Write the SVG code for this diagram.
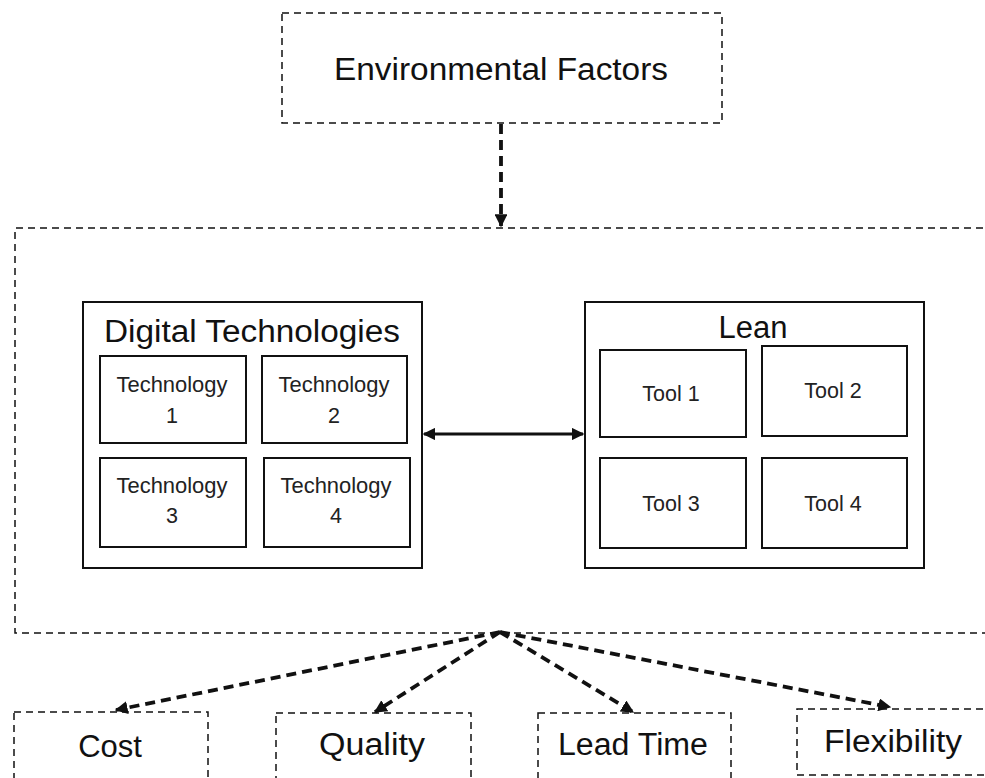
<svg xmlns="http://www.w3.org/2000/svg" width="985" height="778" viewBox="0 0 985 778">
  <style>
    .dash { fill: #fff; stroke: #111; stroke-width: 1.5; stroke-dasharray: 7 5; }
    .solid { fill: #fff; stroke: #111; stroke-width: 2; }
    .big { font-family: "Liberation Sans", Arial, sans-serif; font-size: 31px; fill: #111; text-anchor: middle; }
    .small { font-family: "Liberation Sans", Arial, sans-serif; font-size: 21.5px; fill: #222; text-anchor: middle; }
    .flow { fill: none; stroke: #111; stroke-width: 3.8; stroke-dasharray: 10 6; }
    .link { fill: none; stroke: #111; stroke-width: 2.8; }
  </style>
  <defs>
    <marker id="head" viewBox="0 0 10 10" refX="9" refY="5" markerWidth="3.4" markerHeight="3.4" orient="auto">
      <path d="M0,0 L10,5 L0,10 z" fill="#111"/>
    </marker>
    <marker id="headS" viewBox="0 0 10 10" refX="9" refY="5" markerWidth="4.5" markerHeight="4.5" orient="auto-start-reverse">
      <path d="M0,0 L10,5 L0,10 z" fill="#111"/>
    </marker>
  </defs>

  <rect width="985" height="778" fill="#fff"/>

  <!-- system boundary (open to the right) -->
  <g id="system">
    <path class="dash" d="M995,228 H15 V633 H995" fill="none"/>
  </g>

  <g id="environment">
    <rect class="dash" x="282" y="13" width="440" height="110"/>
    <text class="big" x="501" y="80" textLength="334" lengthAdjust="spacingAndGlyphs">Environmental Factors</text>
  </g>

  <g id="digital">
    <rect class="solid" x="83" y="302" width="339" height="266"/>
    <text class="big" x="252" y="342" font-size="32" textLength="296" lengthAdjust="spacingAndGlyphs">Digital Technologies</text>
  </g>
  <g id="tech1">
    <rect class="solid" x="100" y="356" width="146" height="87"/>
    <text class="small" x="172" y="392" textLength="111" lengthAdjust="spacingAndGlyphs">Technology</text>
    <text class="small" x="172" y="423">1</text>
  </g>
  <g id="tech2">
    <rect class="solid" x="262" y="356" width="145" height="87"/>
    <text class="small" x="334" y="392" textLength="111" lengthAdjust="spacingAndGlyphs">Technology</text>
    <text class="small" x="334" y="423">2</text>
  </g>
  <g id="tech3">
    <rect class="solid" x="100" y="458" width="146" height="89"/>
    <text class="small" x="172" y="493" textLength="111" lengthAdjust="spacingAndGlyphs">Technology</text>
    <text class="small" x="172" y="523">3</text>
  </g>
  <g id="tech4">
    <rect class="solid" x="264" y="458" width="146" height="89"/>
    <text class="small" x="336" y="493" textLength="111" lengthAdjust="spacingAndGlyphs">Technology</text>
    <text class="small" x="336" y="523">4</text>
  </g>

  <g id="lean">
    <rect class="solid" x="585" y="302" width="339" height="266"/>
    <text class="big" x="753" y="338" font-size="32">Lean</text>
  </g>
  <g id="tool1">
    <rect class="solid" x="600" y="350" width="146" height="87"/>
    <text class="small" x="671" y="401">Tool 1</text>
  </g>
  <g id="tool2">
    <rect class="solid" x="762" y="346" width="145" height="90"/>
    <text class="small" x="833" y="398">Tool 2</text>
  </g>
  <g id="tool3">
    <rect class="solid" x="600" y="458" width="146" height="90"/>
    <text class="small" x="671" y="511">Tool 3</text>
  </g>
  <g id="tool4">
    <rect class="solid" x="762" y="458" width="145" height="90"/>
    <text class="small" x="833" y="511">Tool 4</text>
  </g>

  <g id="cost">
    <rect class="dash" x="14" y="712" width="194" height="80"/>
    <text class="big" x="110" y="757">Cost</text>
  </g>
  <g id="quality">
    <rect class="dash" x="276" y="713" width="195" height="80"/>
    <text class="big" x="372" y="755" textLength="106" lengthAdjust="spacingAndGlyphs">Quality</text>
  </g>
  <g id="leadtime">
    <rect class="dash" x="538" y="713" width="193" height="80"/>
    <text class="big" x="633" y="755" textLength="150" lengthAdjust="spacingAndGlyphs">Lead Time</text>
  </g>
  <g id="flexibility">
    <path class="dash" d="M995,709 H797 V775 H995" fill="none"/>
    <text class="big" x="893" y="752" textLength="138" lengthAdjust="spacingAndGlyphs">Flexibility</text>
  </g>

  <g id="connectors">
    <line class="flow" x1="501" y1="124" x2="501" y2="226" marker-end="url(#head)"/>
    <line class="link" x1="424" y1="434" x2="583" y2="434" marker-start="url(#headS)" marker-end="url(#headS)"/>
    <line class="flow" x1="500" y1="632" x2="116" y2="710" marker-end="url(#head)"/>
    <line class="flow" x1="500" y1="632" x2="375" y2="712" marker-end="url(#head)"/>
    <line class="flow" x1="500" y1="632" x2="633" y2="712" marker-end="url(#head)"/>
    <line class="flow" x1="500" y1="632" x2="890" y2="707" marker-end="url(#head)"/>
  </g>
</svg>
